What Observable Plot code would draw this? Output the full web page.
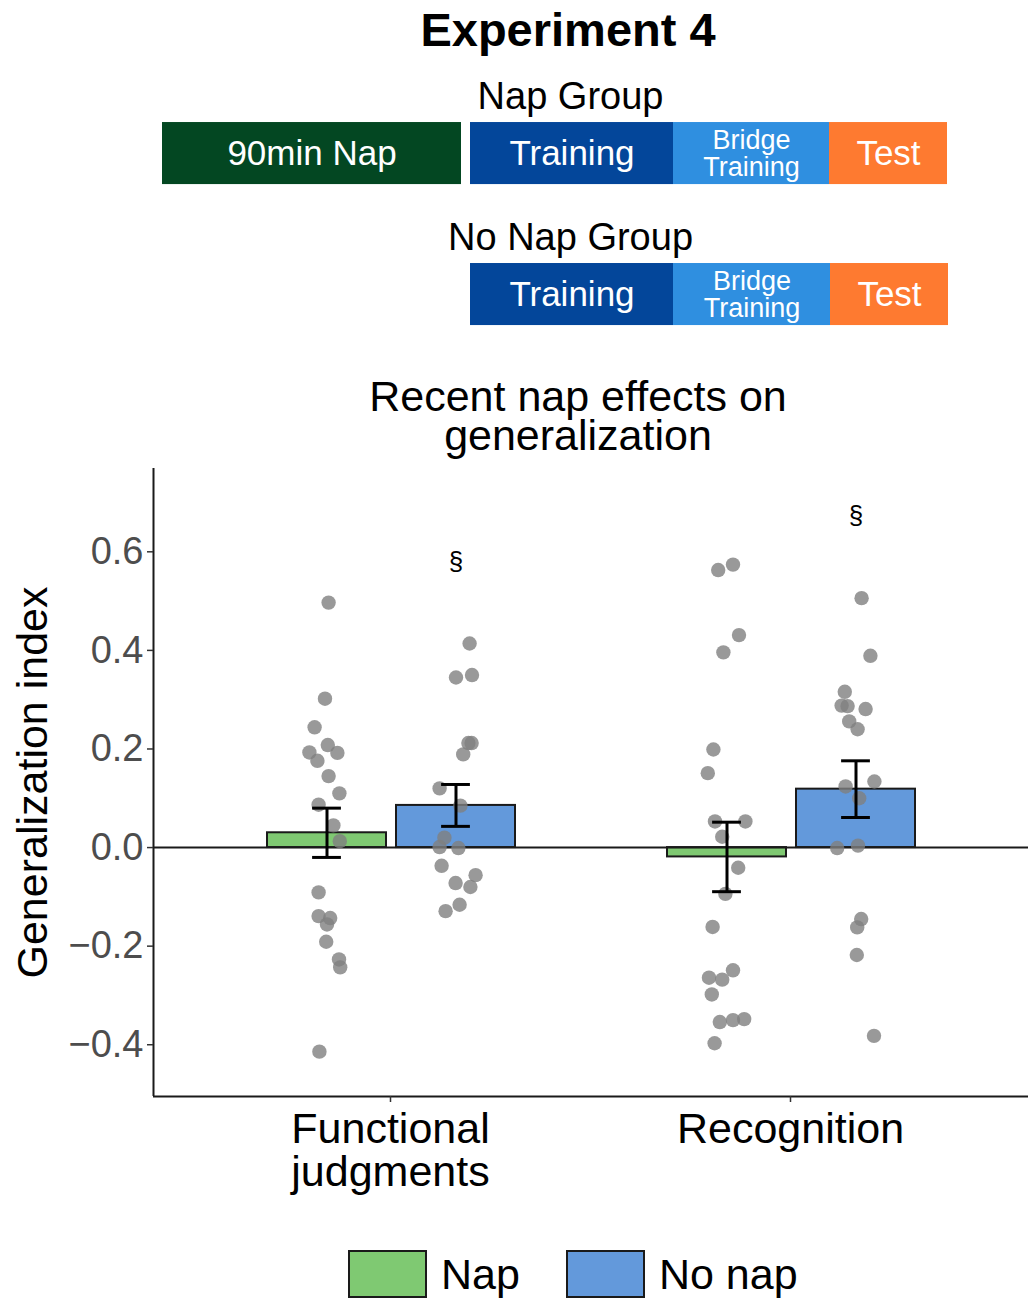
<!DOCTYPE html>
<html>
<head>
<meta charset="utf-8">
<script src="https://cdn.jsdelivr.net/npm/d3@7"></script>
<script src="https://cdn.jsdelivr.net/npm/@observablehq/plot@0.6"></script>
<style>
  html, body { margin: 0; padding: 0; background: #fff; }
  body { width: 1032px; height: 1299px; position: relative; overflow: hidden; font-family: "Liberation Sans", Arial, Helvetica, sans-serif; }
  .abs { position: absolute; }
  #title { left: 0; width: 1136px; top: 4px; text-align: center; font-weight: bold; font-size: 47px; line-height: 52px; color: #000; }
  #schematic { left: 0; top: 60px; }
  .sub { left: 0; width: 1156px; text-align: center; font-size: 43px; line-height: 40px; height: 40px; color: #000; }
  #sub1 { top: 376px; }
  #sub2 { top: 415px; }
  #chart { left: 0; top: 460px; }
  #legend { top: 1250px; left: 348px; display: flex; align-items: center; font-size: 43px; color: #000; }
  .key { width: 75px; height: 44px; border: 2px solid #1a1a1a; }
  .lab { margin-left: 14px; margin-right: 46px; line-height: 48px; }
  #chart svg [aria-label="y-axis tick label"] { fill: #4d4d4d; }
</style>
</head>
<body>
<div id="title" class="abs">Experiment 4</div>
<div id="schematic" class="abs"></div>
<div id="sub1" class="abs sub">Recent nap effects on</div>
<div id="sub2" class="abs sub">generalization</div>
<div id="chart" class="abs"></div>
<div id="legend" class="abs"></div>
<script>
// ---------- Schematic data ----------
const rows = ["Nap Group", "No Nap Group"];
const phaseLabels = ["90min Nap", "Training", "Bridge\nTraining", "Test"];
const phaseColors = ["#034722", "#03469a", "#2f8fe0", "#fe7a30"];
// phase extents (arbitrary timeline units, Training starts at 0)
const napGroupStart = [-3.08, 0.0, 2.03, 3.59];
const napGroupEnd   = [-0.09, 2.03, 3.59, 4.77];
const noNapGroupStart = [null, 0.0, 2.03, 3.60];
const noNapGroupEnd   = [null, 2.03, 3.60, 4.78];

// ---------- Chart data ----------
const categories = ["Functional judgments", "Recognition"];
const categoryLabels = ["Functional\njudgments", "Recognition"];
const groups = ["Nap", "No nap"];
const groupColors = ["#7fc972", "#6399db"];
const meanNap = [0.030, -0.019];
const meanNoNap = [0.0855, 0.1185];
const seNap = [0.050, 0.0705];
const seNoNap = [0.0425, 0.0575];
const yTicks = [-0.4, -0.2, 0.0, 0.2, 0.4, 0.6];
// significance markers (§) above No nap bars
const sigY = [0.58, 0.673];

// individual participants: value and horizontal jitter
const funcNapY = [0.497, 0.302, 0.244, 0.208, 0.193, 0.192, 0.176, 0.145, 0.110, 0.087, 0.045, 0.013, -0.091, -0.139, -0.143, -0.156, -0.191, -0.227, -0.243, -0.414];
const funcNapJ = [0.004, -0.005, -0.031, 0.002, -0.044, 0.026, -0.024, 0.004, 0.031, -0.021, 0.016, 0.032, -0.021, -0.021, 0.008, 0.0, -0.002, 0.030, 0.033, -0.019];
const funcNoNapY = [0.414, 0.345, 0.350, 0.212, 0.212, 0.189, 0.120, 0.085, 0.020, 0.001, -0.001, -0.037, -0.056, -0.072, -0.080, -0.116, -0.129];
const funcNoNapJ = [0.034, 0.0, 0.040, 0.039, 0.031, 0.018, -0.041, 0.011, -0.029, -0.041, 0.006, -0.036, 0.049, -0.001, 0.036, 0.009, -0.026];
const recNapY = [0.563, 0.574, 0.431, 0.396, 0.199, 0.151, 0.053, 0.053, 0.022, -0.041, -0.094, -0.161, -0.249, -0.264, -0.268, -0.298, -0.354, -0.350, -0.348, -0.397];
const recNapJ = [-0.022, 0.015, 0.030, -0.009, -0.034, -0.048, -0.030, 0.046, -0.012, 0.028, -0.004, -0.036, 0.015, -0.045, -0.012, -0.038, -0.018, 0.015, 0.043, -0.031];
const recNoNapY = [0.506, 0.389, 0.316, 0.288, 0.287, 0.281, 0.256, 0.240, 0.134, 0.124, 0.100, -0.001, 0.004, -0.145, -0.162, -0.218, -0.382];
const recNoNapJ = [0.014, 0.036, -0.028, -0.036, -0.021, 0.024, -0.017, 0.004, 0.046, -0.026, 0.008, -0.047, 0.005, 0.013, 0.003, 0.002, 0.045];

// ---------- Schematic plot ----------
const segs = [];
phaseLabels.forEach((lab, i) => {
  segs.push({row: 0, label: lab, color: phaseColors[i], x1: napGroupStart[i], x2: napGroupEnd[i]});
  if (noNapGroupStart[i] != null)
    segs.push({row: 1, label: lab, color: phaseColors[i], x1: noNapGroupStart[i], x2: noNapGroupEnd[i]});
});
const bigSegs = segs.filter(d => !d.label.includes("\n"));
const smallSegs = segs.filter(d => d.label.includes("\n"));
const rowLabels = rows.map((r, i) => ({row: i, label: r}));

const schematic = Plot.plot({
  width: 1032, height: 280,
  marginLeft: 162, marginRight: 85, marginTop: 0, marginBottom: 0,
  x: {domain: [-3.08, 4.77], axis: null},
  y: {domain: [-0.66, 1.326], range: [0, 280], axis: null},
  style: {fontFamily: "'Liberation Sans', Arial, sans-serif", background: "transparent"},
  marks: [
    Plot.rect(segs, {x1: "x1", x2: "x2", y1: d => d.row - 0.22, y2: d => d.row + 0.22, fill: "color"}),
    Plot.text(bigSegs, {x: d => (d.x1 + d.x2) / 2, y: "row", text: "label", fill: "white", fontSize: 35}),
    Plot.text(smallSegs, {x: d => (d.x1 + d.x2) / 2, y: "row", text: "label", fill: "white", fontSize: 27, lineHeight: 1.0}),
    Plot.text(rowLabels, {x: 1.0, y: d => d.row - 0.405, text: "label", fill: "black", fontSize: 38})
  ]
});
document.getElementById("schematic").appendChild(schematic);

// ---------- Main chart ----------
const napOff = [-0.3075, -0.0100];
const noNapOff = [0.0150, 0.3125];
const bars = [];
const errs = [];
categories.forEach((c, i) => {
  bars.push({cat: i, group: "Nap", x1: i + napOff[0], x2: i + napOff[1], mean: meanNap[i]});
  bars.push({cat: i, group: "No nap", x1: i + noNapOff[0], x2: i + noNapOff[1], mean: meanNoNap[i]});
  errs.push({x: i + (napOff[0] + napOff[1]) / 2, lo: meanNap[i] - seNap[i], hi: meanNap[i] + seNap[i]});
  errs.push({x: i + (noNapOff[0] + noNapOff[1]) / 2, lo: meanNoNap[i] - seNoNap[i], hi: meanNoNap[i] + seNoNap[i]});
});
const napC = (napOff[0] + napOff[1]) / 2;
const noNapC = (noNapOff[0] + noNapOff[1]) / 2;
const points = [];
const addPts = (ys, js, cat, center) => ys.forEach((y, k) => points.push({x: cat + center + js[k], y}));
addPts(funcNapY, funcNapJ, 0, napC);
addPts(funcNoNapY, funcNoNapJ, 0, noNapC);
addPts(recNapY, recNapJ, 1, napC);
addPts(recNoNapY, recNoNapJ, 1, noNapC);
const sig = sigY.map((y, i) => ({x: i + noNapC, y}));
const capHalf = 0.036;
const xDomain = [-0.5925, 1.595];
const yDomain = [-0.505, 0.769];

const chart = Plot.plot({
  width: 1032, height: 760,
  marginLeft: 153, marginRight: 4, marginTop: 8, marginBottom: 124,
  x: {domain: xDomain, axis: null},
  y: {domain: yDomain, axis: null},
  color: {domain: groups, range: groupColors},
  style: {fontFamily: "'Liberation Sans', Arial, sans-serif", background: "transparent", overflow: "visible"},
  marks: [
    Plot.rect(bars, {x1: "x1", x2: "x2", y1: 0, y2: "mean", fill: "group", stroke: "#1a1a1a", strokeWidth: 2}),
    Plot.ruleY([0], {stroke: "#1a1a1a", strokeWidth: 2}),
    Plot.dot(points, {x: "x", y: "y", r: 7.2, fill: "#7f7f7f", fillOpacity: 0.8, stroke: "none"}),
    Plot.ruleX(errs, {x: "x", y1: "lo", y2: "hi", stroke: "black", strokeWidth: 3}),
    Plot.ruleY(errs, {y: "lo", x1: d => d.x - capHalf, x2: d => d.x + capHalf, stroke: "black", strokeWidth: 3}),
    Plot.ruleY(errs, {y: "hi", x1: d => d.x - capHalf, x2: d => d.x + capHalf, stroke: "black", strokeWidth: 3}),
    Plot.text(sig, {x: "x", y: "y", text: () => "§", fontSize: 26, fill: "black"}),
    Plot.ruleX([xDomain[0]], {stroke: "#1a1a1a", strokeWidth: 2}),
    Plot.ruleY([yDomain[0]], {stroke: "#1a1a1a", strokeWidth: 2}),
    Plot.axisY({ticks: yTicks, tickFormat: d3.format(".1f"), tickSize: 6, tickPadding: 4, fontSize: 38, stroke: "#333", strokeWidth: 1.5, label: null}),
    Plot.axisX({ticks: [0, 1], tickFormat: (d) => categoryLabels[d], tickSize: 6, tickPadding: 10, fontSize: 43, lineHeight: 1.0, stroke: "#333", strokeWidth: 1.5, fill: "black", label: null}),
    Plot.text(["Generalization index"], {frameAnchor: "left", textAnchor: "middle", dx: -120, rotate: -90, fontSize: 43, fill: "black"})
  ]
});
document.getElementById("chart").appendChild(chart);

// ---------- Legend ----------
const legend = document.getElementById("legend");
groups.forEach((g, i) => {
  const k = document.createElement("div");
  k.className = "key";
  k.style.background = groupColors[i];
  const t = document.createElement("div");
  t.className = "lab";
  t.textContent = g;
  legend.appendChild(k);
  legend.appendChild(t);
});
</script>
</body>
</html>
